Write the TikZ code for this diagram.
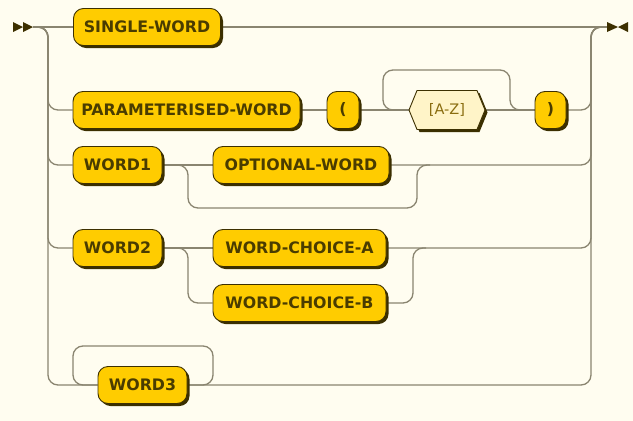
\documentclass[tikz,border=0pt]{standalone}
\usepackage{fontspec}
\setmainfont{DejaVu Sans}
\usetikzlibrary{shadows}
\pgfdeclarelayer{background}
\pgfsetlayers{background,main}
\definecolor{bg}{HTML}{FFFDF0}
\definecolor{linec}{HTML}{8A8570}
\definecolor{boxfill}{HTML}{FFCC00}
\definecolor{boxdraw}{HTML}{3D3000}
\definecolor{shadowc}{HTML}{3B2F00}
\definecolor{txt}{HTML}{4A3C00}
\definecolor{hexfill}{HTML}{FFF4C8}
\definecolor{hextxt}{HTML}{8A6D10}
\begin{document}
\begin{tikzpicture}[x=1pt,y=-1pt,
  term/.style={draw=boxdraw, fill=boxfill, line width=0.9pt, rounded corners=10pt,
    minimum height=37pt, inner sep=0pt, text=txt,
    font=\fontsize{15.8}{15.8}\selectfont\bfseries,
    drop shadow={shadow xshift=2.5pt, shadow yshift=-2.5pt, fill=shadowc, opacity=1}},
  rr/.style={draw=linec, line width=1.3pt},
  rc/.style={rr, rounded corners=10pt},
  marker/.style={fill=boxdraw}]
\useasboundingbox (0,0) rectangle (633,421);

% start / end markers
\fill[marker] (13,22) -- (23,27) -- (13,32) -- cycle;
\fill[marker] (23,22) -- (33,27) -- (23,32) -- cycle;
\fill[marker] (607,22) -- (618,27) -- (607,32) -- cycle;
\fill[marker] (628,22) -- (618,27) -- (628,32) -- cycle;
\coordinate (start) at (33,27);
\coordinate (fin) at (607,27);
\coordinate (L) at (48,0);
\coordinate (R) at (591,0);

% terminals
\node[term, minimum width=147pt] (sw) at (147,27) {SINGLE-WORD};
\node[term, minimum width=227pt] (pw) at (186.5,110) {PARAMETERISED-WORD};
\node[term, minimum width=32pt] (op) at (343,110) {(};
\node[term, minimum width=31pt] (cp) at (550.5,110) {)};
\node[term, minimum width=89pt] (w1) at (117.5,165) {WORD1};
\node[term, minimum width=176pt] (ow) at (301,165) {OPTIONAL-WORD};
\node[term, minimum width=89pt] (w2) at (117.5,248) {WORD2};
\node[term, minimum width=173pt] (ca) at (299.5,248) {WORD-CHOICE-A};
\node[term, minimum width=173pt] (cb) at (299.5,303) {WORD-CHOICE-B};
\node[term, minimum width=89pt] (w3) at (142.5,385) {WORD3};

% hexagon [A-Z]
\fill[shadowc] (411.5,112.5) -- (419.5,93) -- (479.5,93) -- (487.5,112.5) -- (479.5,132) -- (419.5,132) -- cycle;
\filldraw[fill=hexfill, draw=boxdraw, line width=0.9pt] (409,110) -- (417,90.5) -- (477,90.5) -- (485,110) -- (477,129.5) -- (417,129.5) -- cycle;
\node[inner sep=0pt, minimum width=76pt, minimum height=39pt, text=hextxt,
  font=\fontsize{14.5}{14.5}\selectfont] (hx) at (447,110) {[A-Z]};

% named points for connectors
\coordinate (lpA) at (383,70);
\coordinate (lpB) at (510,70);
\coordinate (by1) at (188,208);
\coordinate (by2) at (417,165);
\coordinate (m1) at (430,165);
\coordinate (s2) at (188,303);
\coordinate (m2) at (413,248);
\coordinate (m2b) at (426,248);
\coordinate (l3b) at (213,346);
\coordinate (l3a) at (73,385);

\begin{pgfonlayer}{background}
\fill[bg] (0,0) rectangle (633,421);
% row 1
\draw[rr] (start) -- (sw.west);
\draw[rr] (sw.east) -- (fin);
% row 2
\draw[rc] (start) -| (L |- pw.west) -- (pw.west);
\draw[rr] (pw.east) -- (op.west);
\draw[rr] (op.east) -- (hx.west);
\draw[rr] (hx.east) -- (cp.west);
\draw[rc] (cp.west) -| (lpB) -| (lpA |- hx.west) -- (hx.west);
\draw[rc] (cp.east) -| (R |- fin) -- (fin);
% row 3
\draw[rc] (start) -| (L |- w1.west) -- (w1.west);
\draw[rr] (w1.east) -- (ow.west);
\draw[rc] (w1.east) -| (by1) -| (by2) -- (m1);
\draw[rc] (ow.east) -| (R |- fin) -- (fin);
% row 4
\draw[rc] (start) -| (L |- w2.west) -- (w2.west);
\draw[rr] (w2.east) -- (ca.west);
\draw[rc] (w2.east) -| (s2) -- (cb.west);
\draw[rc] (cb.east) -| (m2) -- (m2b);
\draw[rc] (ca.east) -| (R |- fin) -- (fin);
% row 5
\draw[rc] (start) -| (L |- w3.west) -- (w3.west);
\draw[rc] (w3.east) -| (l3b) -| (l3a) -- (w3.west);
\draw[rc] (w3.east) -| (R |- fin) -- (fin);
\end{pgfonlayer}
\end{tikzpicture}
\end{document}
